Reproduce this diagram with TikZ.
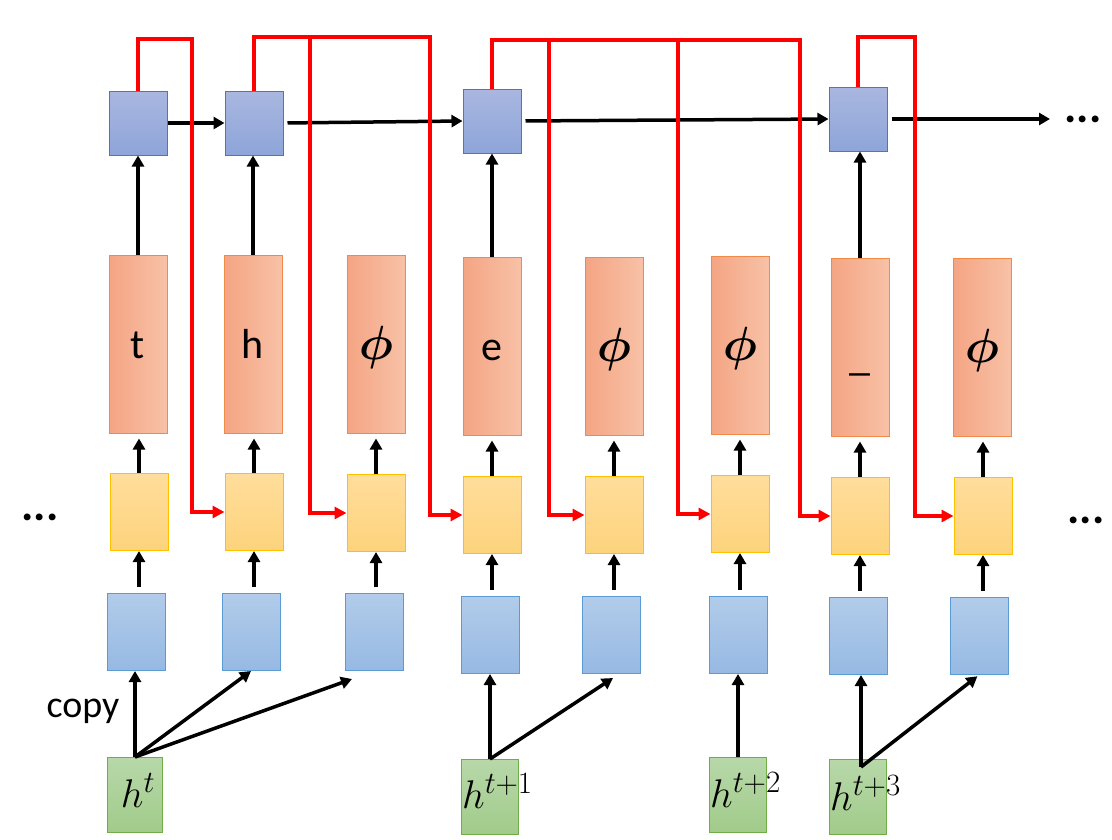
\RequirePackage{fix-cm}
\documentclass[tikz,border=0pt]{standalone}
\usepackage{bm}
\usepackage{fontspec}
\setmainfont{Carlito}
\DeclareMathSizes{40}{40}{31}{24}
\usetikzlibrary{arrows.meta}
\definecolor{topT}{HTML}{A9B7E0}
\definecolor{topB}{HTML}{8EA5D9}
\definecolor{topD}{HTML}{4F74C0}
\definecolor{orL}{HTML}{F4A583}
\definecolor{orR}{HTML}{F8C1A7}
\definecolor{orD}{HTML}{F08A4B}
\definecolor{yT}{HTML}{FFDD9B}
\definecolor{yB}{HTML}{FDD37C}
\definecolor{yD}{HTML}{FFC000}
\definecolor{lT}{HTML}{B2CCEA}
\definecolor{lB}{HTML}{96B9E3}
\definecolor{lD}{HTML}{5B9BD5}
\definecolor{gT}{HTML}{B7D8A9}
\definecolor{gB}{HTML}{A1CB8A}
\definecolor{gD}{HTML}{70AD47}
\definecolor{redline}{HTML}{FF0000}
\begin{document}
\begin{tikzpicture}[x=1pt,y=-1pt,
  box/.style={rectangle, inner sep=0pt, line width=1pt},
  topbox/.style={box, minimum width=58pt, minimum height=64pt, top color=topT, bottom color=topB, draw=topD},
  outbox/.style={box, minimum width=58pt, minimum height=178pt, left color=orL, right color=orR, draw=orD,
     text height=28pt, text depth=0pt, font=\fontsize{42}{42}\selectfont},
  phibox/.style={outbox, text height=30pt, font=\fontsize{48}{48}\selectfont},
  ybox/.style={box, minimum width=58pt, minimum height=77pt, top color=yT, bottom color=yB, draw=yD},
  lbox/.style={box, minimum width=58pt, minimum height=77pt, top color=lT, bottom color=lB, draw=lD},
  gbox/.style={box, minimum width=57pt, minimum height=75pt, top color=gT, bottom color=gB, draw=gD},
  hlab/.style={inner sep=0pt, anchor=base west, font=\fontsize{40}{40}\selectfont},
  txt/.style={inner sep=0pt, anchor=base, font=\fontsize{38}{38}\selectfont},
  dots/.style={inner sep=0pt, anchor=base, font=\fontsize{46}{46}\selectfont\bfseries},
  blk/.style={line width=3.5pt, -{Triangle[length=11pt,width=12pt]}},
  redl/.style={line width=3.5pt, redline, -{Triangle[length=12pt,width=12pt]}},
]
\useasboundingbox (0,0) rectangle (1112,839);

% top recurrent boxes
\node[topbox] (A1) at (138,123) {};
\node[topbox] (A2) at (254,123) {};
\node[topbox] (A4) at (492,121) {};
\node[topbox] (A7) at (858,119) {};

% output boxes
\node[outbox] (O1) at (138,344) {t};
\node[outbox] (O2) at (253,344) {h};
\node[phibox] (O3) at (376,344) {$\bm{\phi}$};
\node[outbox] (O4) at (492,346) {e};
\node[phibox] (O5) at (614,346) {$\bm{\phi}$};
\node[phibox] (O6) at (740,345) {$\bm{\phi}$};
\node[outbox] (O7) at (860,347) {\raisebox{-9pt}{\_}};
\node[phibox] (O8) at (982,347) {$\bm{\phi}$};

% yellow boxes
\node[ybox] (Y1) at (139,512) {};
\node[ybox] (Y2) at (254,512) {};
\node[ybox] (Y3) at (376,513) {};
\node[ybox] (Y4) at (492,515) {};
\node[ybox] (Y5) at (614,515) {};
\node[ybox] (Y6) at (740,514) {};
\node[ybox] (Y7) at (860,516) {};
\node[ybox] (Y8) at (983,516) {};

% lower blue boxes
\node[lbox] (L1) at (136,632) {};
\node[lbox] (L2) at (251,632) {};
\node[lbox] (L3) at (374,632) {};
\node[lbox] (L4) at (490,635) {};
\node[lbox] (L5) at (611,635) {};
\node[lbox] (L6) at (738,635) {};
\node[lbox] (L7) at (858,636) {};
\node[lbox] (L8) at (979,636) {};

% green boxes
\node[gbox, minimum width=55pt] (G1) at (135,795) {};
\node[gbox] (G4) at (490,797) {};
\node[gbox] (G6) at (738,795) {};
\node[gbox] (G7) at (858,797) {};

% green labels
\node[txt, font=\fontsize{40}{40}\selectfont] (H1) at (138,807) {$h^{t}$};
\node[hlab] (H4) at (462,808) {$h^{t+1}$};
\node[hlab] (H6) at (710,807) {$h^{t+2}$};
\node[hlab] (H7) at (830,810) {$h^{t+3}$};

% texts
\node[txt] (cp) at (83,717) {copy};
\node[dots] (D1) at (40,520) {...};
\node[dots] (D2) at (1086,523) {...};
\node[dots] (D3) at (1083,122) {...};
\coordinate (E) at (1050,119);

% horizontal recurrent arrows
\draw[blk] (A1.east) -- (A2.west);
\draw[blk, shorten <=4pt] (A2.east) -- (A4.west);
\draw[blk, shorten <=4pt] (A4.east) -- (A7.west);
\draw[blk, shorten <=4pt] (A7.east) -- (E);

% orange -> top boxes
\foreach \i in {1,2,4,7}
  \draw[blk] (O\i.north) -- (O\i.north |- A\i.south);

% yellow -> orange
\foreach \i in {1,...,8}
  \draw[blk, shorten >=5pt] (Y\i.north) -- (Y\i.north |- O\i.south);

% lower blue -> yellow
\foreach \i in {1,...,8}
  \draw[blk, shorten <=6pt] (Y\i.south |- L\i.north) -- (Y\i.south);

% green -> lower blue
\coordinate (c3) at (352,679);
\coordinate (c5) at (613,678);
\coordinate (g7) at (861,767);
\draw[blk] (G1.north) -- (G1.north |- L1.south);
\draw[blk] (G1.north) -- (L2.south);
\draw[blk] (G1.north) -- (c3);
\draw[blk] (G4.north) -- (G4.north |- L4.south);
\draw[blk] (G4.north) -- (c5);
\draw[blk] (G6.north) -- (G6.north |- L6.south);
\draw[blk] (g7) -- (g7 |- L7.south);
\draw[blk, shorten >=2pt] (g7) -- (L8.south);

% red skip connections
\coordinate (r1) at (192,39);
\coordinate (r2a) at (310,37);
\coordinate (r2b) at (430,37);
\coordinate (r3a) at (549,40);
\coordinate (r3b) at (678,40);
\coordinate (r3c) at (800,40);
\coordinate (r4) at (915,37);
\draw[redl] (A1.north) |- (r1) |- (Y2.west);
\draw[redl] (A2.north) |- (r2b) |- (Y4.west);
\draw[redl] (r2a) |- (Y3.west);
\draw[redl] (A4.north) |- (r3c) |- (Y7.west);
\draw[redl] (r3a) |- (Y5.west);
\draw[redl] (r3b) |- (Y6.west);
\draw[redl] (A7.north) |- (r4) |- (Y8.west);
\end{tikzpicture}
\end{document}
